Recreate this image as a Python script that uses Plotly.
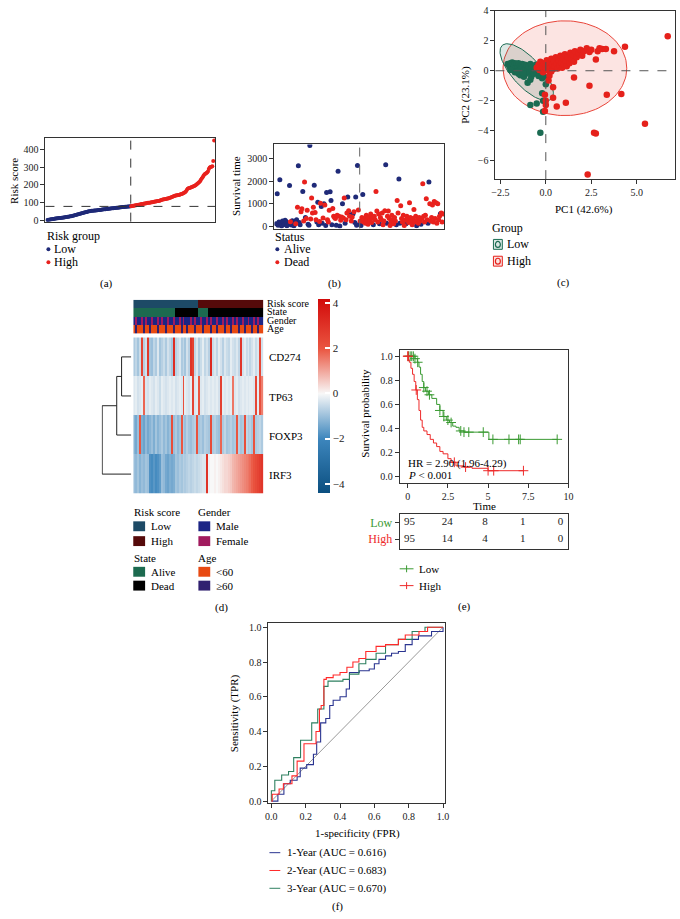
import numpy as np
import plotly.graph_objects as go

W, H = 680, 919
FONT = "Liberation Serif"

# ---------------- (a) risk score ----------------
risk_low = [1, 2, 3, 4, 5, 6, 7, 7.5, 8, 9,
            10, 10.5, 11, 12, 12.5, 13, 14, 14.5, 15, 16,
            17, 17.5, 18, 19, 20, 21, 22, 23, 24, 25.5,
            27, 28, 29.5, 31, 32, 33.5, 35, 36.5, 38, 39,
            40.5, 42, 43, 44.5, 46, 47, 48.5, 50, 51, 52,
            53, 53.5, 54, 54.5, 55, 55.5, 56, 56.5, 57, 57.5,
            58, 59, 60, 61, 61.5, 62, 62.5, 63, 64, 64.5,
            65, 65.5, 66, 67, 67.5, 68, 68.5, 69, 70, 70.5,
            71, 71.5, 72, 73, 73.5, 74, 74.5, 75, 75.5, 76,
            76.5, 77, 77.5, 78, 78.5]
risk_high = [79, 80, 81, 82, 83, 84, 85, 86, 87, 88,
             89, 90, 91, 92, 93, 94, 95, 96, 97, 98,
             98.5, 99, 100, 101, 102, 103, 104, 105, 106, 107,
             108, 109, 110, 112, 114, 116, 117, 118, 119, 120,
             121, 122, 123, 125, 127, 129, 131, 133, 135, 137,
             139, 140, 141, 142, 143, 144, 146, 148, 150, 152,
             155, 158, 162, 170, 178, 180, 182, 184, 186, 188,
             190, 192, 195, 198, 202, 206, 210, 215, 220, 228,
             235, 243, 251, 258, 262, 266, 270, 275, 290, 298,
             300, 302, 305, 335, 450]
risk_cutoff = 78

# ---------------- (b) survival status ----------------
surv_time = [120, 1440, 60, 200, 2060, 150, 30, 250, 180, 90,
             280, 220, 40, 160, 100, 1810, 210, 70, 260, 150,
             40, 230, 120, 300, 850, 2680, 180, 80, 650, 780,
             1540, 250, 1960, 400, 350, 720, 100, 60, 3570, 330,
             1260, 600, 850, 1820, 620, 300, 200, 1070, 80, 220,
             1030, 880, 150, 380, 1000, 950, 50, 1500, 300, 200,
             720, 1530, 1150, 80, 800, 450, 400, 350, 60, 500,
             2430, 450, 30, 280, 420, 1000, 380, 1260, 150, 300,
             600, 1300, 700, 450, 520, 250, 420, 560, 650, 180,
             1300, 60, 2690, 730, 100, 250, 50, 400, 1410, 200,
             350, 150, 500, 300, 100, 420, 250, 550, 180, 380,
             80, 450, 300, 1540, 680, 200, 550, 120, 400, 300,
             600, 80, 250, 700, 2720, 150, 450, 680, 350, 50,
             200, 500, 300, 120, 400, 250, 80, 1150, 600, 2090,
             150, 920, 350, 200, 500, 50, 280, 120, 450, 300,
             180, 1050, 400, 250, 80, 350, 750, 200, 450, 40,
             300, 150, 400, 250, 100, 350, 1880, 450, 200, 500,
             1220, 300, 150, 1960, 1000, 250, 400, 950, 200, 1100,
             350, 1050, 150, 1000, 300, 450, 560, 600, 200, 550]
surv_status = [0, 0, 0, 0, 0, 0, 0, 0, 0, 0,
               0, 0, 0, 0, 0, 0, 1, 0, 0, 0,
               0, 0, 1, 0, 1, 0, 0, 0, 1, 1,
               0, 1, 1, 0, 1, 1, 0, 0, 0, 1,
               1, 1, 1, 0, 1, 1, 0, 0, 0, 1,
               1, 0, 0, 1, 0, 1, 0, 0, 1, 1,
               1, 0, 0, 0, 1, 1, 1, 1, 0, 1,
               0, 1, 0, 1, 1, 0, 1, 1, 0, 1,
               1, 0, 1, 1, 0, 1, 1, 0, 1, 0,
               0, 0, 0, 1, 0, 1, 0, 1, 0, 1,
               1, 1, 1, 1, 1, 1, 1, 1, 1, 1,
               0, 1, 1, 1, 1, 1, 1, 0, 1, 1,
               1, 1, 1, 1, 0, 0, 1, 1, 1, 1,
               1, 1, 1, 1, 1, 1, 0, 1, 1, 0,
               0, 1, 1, 1, 1, 1, 1, 0, 1, 1,
               1, 1, 1, 1, 1, 1, 1, 1, 1, 0,
               1, 1, 1, 1, 0, 1, 1, 1, 1, 1,
               1, 1, 0, 0, 1, 1, 1, 1, 1, 1,
               1, 1, 1, 1, 1, 1, 0, 1, 1, 1]

# ---------------- (c) PCA ----------------
pc_low_x = [-2.1, -2.0, -1.95, -1.9, -1.85, -1.8, -1.8, -1.75, -1.7, -1.7, -1.65, -1.6, -1.6, -1.55, -1.5,
            -1.5, -1.45, -1.4, -1.4, -1.35, -1.3, -1.3, -1.25, -1.2, -1.2, -1.15, -1.1, -1.1, -1.05, -1.0,
            -1.0, -0.95, -0.9, -0.85, -0.8, -0.8, -0.75, -0.7, -0.65, -0.6, -0.55, -0.5, -0.45, -0.4, -0.35,
            -0.3, -0.25, -0.2, -1.95, -1.55, -1.25, -0.85, -0.1, 0.0, -0.2, -0.15, -0.5, -0.85, -0.15, -0.3]
pc_low_y = [0.45, 0.3, 0.5, 0.2, 0.55, 0.4, 0.1, 0.3, 0.5, -0.1, 0.2, 0.45, 0.0, 0.3, -0.2,
            0.5, 0.1, 0.35, -0.3, 0.2, 0.45, -0.1, 0.3, 0.05, -0.4, 0.4, 0.2, -0.2, 0.35, -0.8,
            0.1, 0.3, -0.1, 0.45, 0.2, -0.4, 0.0, 0.3, -0.2, 0.15, 0.4, -0.1, 0.2, -0.35, 0.05,
            0.3, -0.3, -0.5, 0.05, -0.05, -0.15, -0.6, -0.4, -0.9, -1.5, -2.0, -2.2, -2.3, -2.75, -4.15]
pc_high_x = [-0.5, -0.4, -0.35, -0.3, -0.2, -0.15, -0.1, 0.0, 0.05, 0.1, 0.15, 0.2, 0.25, 0.3, 0.35,
             0.4, 0.45, 0.5, 0.55, 0.6, 0.65, 0.7, 0.75, 0.8, 0.85, 0.9, 0.95, 1.0, 1.05, 1.1,
             1.15, 1.2, 1.3, 1.35, 1.4, 1.5, 1.55, 1.6, 1.7, 1.8, 1.9, 2.0, 2.1, 2.25, 2.4,
             2.5, 2.75, 2.85, 2.95, 3.1, 3.3, 3.75, 4.35, 6.7,
             0.2, 0.15, 0.3, 0.4, 0.4, 0.6, 1.1, 0.0, -0.05, 1.55, 2.4, 3.35, 4.15, 5.45, 2.65,
             2.75, 2.3, 0.0, -0.05]
pc_high_y = [0.2, 0.4, 0.05, 0.6, 0.3, -0.1, 0.5, 0.2, 0.7, 0.35, 0.0, 0.55, 0.2, 0.8, 0.4,
             0.1, 0.6, 0.3, 0.9, 0.45, 0.15, 0.7, 0.35, 1.0, 0.5, 0.2, 0.8, 0.4, 1.1, 0.65,
             0.3, 0.9, 0.5, 1.2, 0.8, 1.05, 0.6, 1.3, 0.9, 1.15, 1.4, 1.0, 1.3, 1.5, 1.25,
             1.4, 0.75, 1.3, 1.5, 1.45, 1.45, 1.3, 1.6, 2.3,
             -0.33, -0.65, -0.05, -1.1, -1.8, -2.4, -2.15, -2.3, -2.7, -0.45, -1.0, -1.6, -1.55, -3.55, -4.15,
             -4.2, -6.95, -2.0, -1.6]
ellipse_low = {"cx": -1.05, "cy": -0.1, "a": 2.25, "b": 0.85, "angle": -55}
ellipse_high = {"cx": 1.05, "cy": 0.17, "a": 3.4, "b": 3.17, "angle": 0}

# ---------------- (d) heatmap ----------------
genes = ["CD274", "TP63", "FOXP3", "IRF3"]
expr_cd274 = [-0.8, -0.6, -0.9, -0.5, 2.5, -0.7, -0.4, 2.8, -0.9, -1.0,
              -0.6, -0.8, -0.3, -0.9, -0.7, -0.5, -0.8, -0.4, -0.6, -0.9,
              3.2, -0.7, -0.5, -0.3, -0.8, -0.6, -0.9, -0.4, -0.7, 3.0,
              2.6, -0.6, -0.3, -0.8, -0.5, -0.2, -0.6, -0.4, -0.7, 3.3,
              -0.5, -0.3, -0.6, -0.2, -0.4, -0.7, -0.3, -0.5, -0.6, -0.2,
              -0.4, -0.5, -0.3, -0.6, 2.9, -0.4, -0.2, -0.5, -0.3, -0.6,
              -0.4, -0.2, -0.5, -0.3, 2.4, -0.4]
expr_tp63 = [-0.3, -0.2, -0.4, -0.3, -0.2, 1.8, -0.3, -0.4, -0.2, -0.3,
             -0.4, -0.2, -0.3, -0.5, -0.2, -0.3, -0.4, -0.3, -0.2, -0.3,
             -0.2, -0.4, -0.3, -0.2, -0.3, 2.2, -0.2, -0.3, -0.4, -0.2,
             2.5, -0.3, -0.2, 2.0, -0.3, -0.2, -0.4, -0.3, -0.2, -0.3,
             -0.2, -0.3, -0.2, -0.4, 2.6, -0.2, -0.3, -0.2, -0.3, -0.2,
             1.6, -0.3, -0.2, -0.4, -0.3, -0.2, -0.3, -0.2, -0.3, -0.2,
             -0.2, -0.3, 2.4, -0.2, 2.2, 1.5]
expr_foxp3 = [-1.2, -1.4, -1.0, 2.0, -1.3, -1.5, -1.1, -1.4, -1.2, -1.0,
              -1.3, -0.9, -1.2, -1.0, -0.8, -1.1, -0.9, -1.2, -1.0, 2.2,
              -1.0, -0.8, -1.1, -0.9, 2.0, -0.8, -1.0, -0.7, -0.9, -1.0,
              -0.8, -0.7, 2.1, -0.9, -0.8, -1.0, -0.7, -0.8, -0.9, 2.3,
              -0.8, -0.7, -0.9, -1.0, 1.8, -0.8, -0.6, -0.9, -0.8, -0.7,
              -0.9, -0.8, 2.0, -0.7, -0.9, -0.8, 2.2, -0.6, -0.8, -0.7,
              -0.9, 2.1, -0.8, -0.7, -0.6, -0.8]
expr_irf3 = [-1.0, -1.1, -0.9, -1.2, -1.0, -1.1, -0.9, -1.0, -1.8, -1.9,
             -1.7, -1.9, -1.8, -1.6, -1.0, -1.1, -1.4, -1.5, -1.3, -1.4,
             -1.3, -0.9, -1.0, -0.8, -0.9, -0.7, -0.8, -0.7, -0.6, -0.7,
             -0.6, -0.5, -0.6, -0.5, -0.4, -0.3, -0.3, 3.0, -0.1, 0.0,
             0.0, 0.1, 0.0, 0.1, 0.2, 0.3, 0.4, 0.4, 0.5, 0.6,
             0.8, 0.9, 1.0, 1.1, 1.2, 1.3, 1.4, 1.5, 1.6, 1.7,
             1.9, 2.1, 2.3, 2.5, 2.7, 2.9]
ann_risk = [0] * 33 + [1] * 33
ann_state = [0] * 21 + [1] * 12 + [0] * 5 + [1] * 28
ann_gender = [0, 1, 0, 0, 1, 0, 1, 0, 0, 1, 0, 0, 1, 0, 1, 0, 0, 1, 0, 0,
              1, 0, 0, 1, 0, 1, 0, 0, 0, 1, 0, 1, 0, 0, 1, 0, 0, 1, 0, 1,
              0, 0, 1, 0, 0, 1, 0, 1, 0, 0, 1, 0, 1, 0, 0, 1, 0, 0, 1, 0,
              0, 1, 0, 1, 0, 0]
ann_age = [0, 1, 0, 0, 0, 1, 0, 0, 1, 0, 0, 0, 1, 0, 0, 0, 1, 0, 0, 0,
           1, 0, 0, 0, 1, 0, 0, 1, 0, 0, 0, 1, 0, 0, 0, 1, 0, 0, 0, 1,
           0, 0, 1, 0, 0, 0, 1, 0, 0, 1, 0, 0, 0, 1, 0, 0, 1, 0, 0, 0,
           1, 0, 0, 1, 0, 0]
ann_names = ["Risk score", "State", "Gender", "Age"]
ann_colors = ["#1d4a66", "#550a0a", "#1c6a4f", "#000000",
              "#1c2585", "#a11a5e", "#e84a12", "#302070"]
dendro_heights = [1.0, 1.5, 3.0]   # merges: CD274+TP63, +FOXP3, +IRF3

# ---------------- (e) Kaplan-Meier ----------------
km_low_t = [0, 0.45, 0.6, 0.7, 0.8, 0.9, 1.0, 1.1, 1.3, 1.5, 1.8, 2.0, 2.2, 2.4, 2.6, 2.8, 3.0, 3.2, 3.5, 5.05, 9.3]
km_low_s = [1.0, 0.98, 0.95, 0.91, 0.85, 0.79, 0.74, 0.71, 0.68, 0.65, 0.60, 0.55, 0.50, 0.47, 0.45, 0.42, 0.41, 0.38, 0.37, 0.31, 0.31]
km_low_cens = [0.05, 0.15, 0.25, 0.35, 0.45, 0.62, 1.0, 1.2, 1.35, 2.0, 2.25, 2.5, 2.7, 3.3, 3.5, 3.8, 4.7, 5.3, 6.3, 6.9, 7.0, 9.3]
km_high_t = [0, 0.05, 0.1, 0.2, 0.3, 0.4, 0.5, 0.6, 0.7, 0.8, 0.9, 1.0, 1.2, 1.4, 1.6, 1.8, 2.0, 2.2, 2.5, 2.7, 3.0, 3.5, 4.0, 5.0, 7.2]
km_high_s = [1.0, 0.97, 0.95, 0.9, 0.85, 0.79, 0.72, 0.64, 0.55, 0.47, 0.41, 0.38, 0.35, 0.31, 0.28, 0.25, 0.21, 0.19, 0.15, 0.12, 0.09, 0.08, 0.07, 0.05, 0.05]
km_high_cens = [0.0, 0.02, 0.53, 2.9, 3.6, 5.0, 5.35, 7.2]
risk_times = [0, 2.5, 5, 7.5, 10]
risk_n_low = [95, 24, 8, 1, 0]
risk_n_high = [95, 14, 4, 1, 0]

# ---------------- (f) ROC ----------------
roc1_fpr = [0, 0.038, 0.038, 0.073, 0.11, 0.15, 0.168, 0.206, 0.245, 0.264, 0.287, 0.317, 0.34, 0.36, 0.40,
            0.436, 0.455, 0.512, 0.57, 0.6, 0.627, 0.665, 0.70, 0.74, 0.78, 0.82, 0.857, 0.933, 1.0]
roc1_tpr = [0, 0, 0.04, 0.1, 0.12, 0.14, 0.19, 0.21, 0.27, 0.34, 0.45, 0.475, 0.55, 0.58, 0.6,
            0.645, 0.74, 0.75, 0.76, 0.79, 0.815, 0.835, 0.85, 0.86, 0.9, 0.93, 0.95, 0.975, 1.0]
roc2_fpr = [0, 0.005, 0.045, 0.07, 0.12, 0.15, 0.19, 0.26, 0.28, 0.29, 0.306, 0.32, 0.36, 0.40, 0.44,
            0.475, 0.51, 0.55, 0.61, 0.665, 0.74, 0.78, 0.86, 0.91, 1.0]
roc2_tpr = [0, 0.04, 0.07, 0.1, 0.145, 0.23, 0.33, 0.40, 0.53, 0.55, 0.70, 0.71, 0.725, 0.74, 0.77,
            0.8, 0.82, 0.86, 0.89, 0.9, 0.93, 0.955, 0.975, 1.0, 1.0]
roc3_fpr = [0, 0, 0.02, 0.06, 0.1, 0.13, 0.17, 0.235, 0.27, 0.306, 0.33, 0.417, 0.455, 0.51, 0.55,
            0.61, 0.665, 0.74, 0.82, 0.895, 1.0]
roc3_tpr = [0, 0.06, 0.12, 0.15, 0.17, 0.25, 0.35, 0.45, 0.53, 0.66, 0.69, 0.70, 0.73, 0.79, 0.815,
            0.85, 0.9, 0.93, 0.975, 1.0, 1.0]
roc_labels = ["1-Year (AUC = 0.616)", "2-Year (AUC = 0.683)", "3-Year (AUC = 0.670)"]

# ---------------- colors ----------------
NAVY = "#1f2a78"
RED = "#e8211d"
PC_GREEN = "#1b6b52"
PC_RED = "#e5211b"
KM_GREEN = "#3a9a32"
KM_RED = "#ee2a2a"
ROC_COLORS = ["#2a3490", "#ff2a2a", "#2e8060"]

# ---------------- helpers ----------------
def dx(l, r):
    return [l / W, r / W]

def dy(top, bottom):
    return [1 - bottom / H, 1 - top / H]

def px(x):
    return x / W

def py(y):
    return 1 - y / H

annotations = []
shapes = []

def txt(x, y, s, size=11, anchor="left", color="black", angle=0):
    annotations.append(dict(x=px(x), y=py(y), xref="paper", yref="paper", text=s,
                            showarrow=False, xanchor=anchor, yanchor="middle", borderpad=0,
                            textangle=angle, font=dict(family=FONT, size=size, color=color)))

def dot(x, y, color, r=2):
    shapes.append(dict(type="circle", xref="paper", yref="paper", x0=px(x - r), x1=px(x + r),
                       y0=py(y + r), y1=py(y - r), fillcolor=color, line=dict(width=0)))

def rect(x0, y0, x1, y1, fill, line_color=None, lw=0):
    shapes.append(dict(type="rect", xref="paper", yref="paper", x0=px(x0), x1=px(x1),
                       y0=py(y1), y1=py(y0), fillcolor=fill,
                       line=dict(width=lw, color=line_color or fill)))

def hline_paper(x0, x1, y, color, w=1):
    shapes.append(dict(type="line", xref="paper", yref="paper", x0=px(x0), x1=px(x1),
                       y0=py(y), y1=py(y), line=dict(color=color, width=w)))

def vline_paper(x, y0, y1, color, w=1):
    shapes.append(dict(type="line", xref="paper", yref="paper", x0=px(x), x1=px(x),
                       y0=py(y0), y1=py(y1), line=dict(color=color, width=w)))

def ax(domain, rng, **kw):
    d = dict(domain=domain, range=rng, showline=True, mirror=True, linecolor="#333",
             linewidth=1, ticks="outside", ticklen=4, tickcolor="#333", showgrid=False,
             zeroline=False, tickfont=dict(family=FONT, size=10, color="#222"))
    d.update(kw)
    return d

fig = go.Figure()

# ================= (a) =================
n_low = len(risk_low)
idx_low = list(range(1, n_low + 1))
idx_high = list(range(n_low + 1, n_low + len(risk_high) + 1))
fig.add_trace(go.Scatter(x=idx_low, y=risk_low, mode="markers", marker=dict(color=NAVY, size=4),
                         xaxis="x", yaxis="y", showlegend=False))
fig.add_trace(go.Scatter(x=idx_high, y=risk_high, mode="markers", marker=dict(color=RED, size=4),
                         xaxis="x", yaxis="y", showlegend=False))
shapes.append(dict(type="line", xref="x", yref="y domain", x0=n_low + 0.5, x1=n_low + 0.5, y0=0, y1=1,
                   line=dict(color="#333", width=1, dash="dash")))
shapes.append(dict(type="line", xref="x domain", yref="y", x0=0, x1=1, y0=risk_cutoff, y1=risk_cutoff,
                   line=dict(color="#333", width=1, dash="dash")))
txt(10, 177, "Risk score", 11, "center", angle=-90)
txt(43, 233, "Risk group", 12)
dot(45, 246, NAVY); txt(50, 246, "Low", 12)
dot(45, 259, RED); txt(50, 259, "High", 12)
txt(104, 281, "(a)", 11, "center")

# ================= (b) =================
idx_all = list(range(1, len(surv_time) + 1))
alive_x = [i for i, s in zip(idx_all, surv_status) if s == 0]
alive_y = [t for t, s in zip(surv_time, surv_status) if s == 0]
dead_x = [i for i, s in zip(idx_all, surv_status) if s == 1]
dead_y = [t for t, s in zip(surv_time, surv_status) if s == 1]
fig.add_trace(go.Scatter(x=alive_x, y=alive_y, mode="markers", marker=dict(color=NAVY, size=5),
                         xaxis="x2", yaxis="y2", showlegend=False))
fig.add_trace(go.Scatter(x=dead_x, y=dead_y, mode="markers", marker=dict(color=RED, size=5),
                         xaxis="x2", yaxis="y2", showlegend=False))
shapes.append(dict(type="line", xref="x2", yref="y2 domain", x0=n_low + 0.5, x1=n_low + 0.5, y0=0, y1=1,
                   line=dict(color="#666", width=1, dash="dash")))
txt(235, 182, "Survival time", 11, "center", angle=-90)
txt(274, 234, "Status", 12)
dot(277, 246, NAVY); txt(283, 246, "Alive", 12)
dot(277, 259, RED); txt(283, 259, "Dead", 12)
txt(335, 281, "(b)", 11, "center")

# ================= (c) =================
def ellipse(p):
    t = np.linspace(0, 2 * np.pi, 120)
    th = np.radians(p["angle"])
    ex = p["cx"] + p["a"] * np.cos(t) * np.cos(th) - p["b"] * np.sin(t) * np.sin(th)
    ey = p["cy"] + p["a"] * np.cos(t) * np.sin(th) + p["b"] * np.sin(t) * np.cos(th)
    return ex, ey

ex, ey = ellipse(ellipse_high)
fig.add_trace(go.Scatter(x=ex, y=ey, mode="lines", fill="toself", fillcolor="rgba(240,120,110,0.2)",
                         line=dict(color="#e8453a", width=1), xaxis="x3", yaxis="y3", showlegend=False))
ex, ey = ellipse(ellipse_low)
fig.add_trace(go.Scatter(x=ex, y=ey, mode="lines", fill="toself", fillcolor="rgba(30,100,80,0.15)",
                         line=dict(color="#1b6b52", width=1), xaxis="x3", yaxis="y3", showlegend=False))
shapes.append(dict(type="line", xref="x3", yref="y3 domain", x0=0, x1=0, y0=0, y1=1,
                   line=dict(color="#555", width=1, dash="dash")))
shapes.append(dict(type="line", xref="x3 domain", yref="y3", x0=0, x1=1, y0=0, y1=0,
                   line=dict(color="#555", width=1, dash="dash")))
fig.add_trace(go.Scatter(x=pc_low_x, y=pc_low_y, mode="markers", marker=dict(color=PC_GREEN, size=6.5),
                         xaxis="x3", yaxis="y3", showlegend=False))
fig.add_trace(go.Scatter(x=pc_high_x, y=pc_high_y, mode="markers", marker=dict(color=PC_RED, size=6.5),
                         xaxis="x3", yaxis="y3", showlegend=False))
txt(467, 90, "PC2 (23.1%)", 11, "center", angle=-90)
txt(588, 206, "PC1 (42.6%)", 11, "center")
txt(494, 224, "Group", 12)
rect(496, 236, 505, 246, "rgba(30,100,80,0.15)", PC_GREEN, 1)
shapes.append(dict(type="circle", xref="paper", yref="paper", x0=px(498), x1=px(503), y0=py(244), y1=py(238),
                   fillcolor="rgba(0,0,0,0)", line=dict(color=PC_GREEN, width=1.2)))
txt(509, 241, "Low", 12)
rect(496, 253, 505, 263, "rgba(240,120,110,0.2)", PC_RED, 1)
shapes.append(dict(type="circle", xref="paper", yref="paper", x0=px(498), x1=px(503), y0=py(261), y1=py(255),
                   fillcolor="rgba(0,0,0,0)", line=dict(color=PC_RED, width=1.2)))
txt(509, 258, "High", 12)
txt(567, 280, "(c)", 11, "center")

# ================= (d) =================
ncol = len(expr_cd274)
cols = list(range(ncol))
ann_z = [[v + 0 for v in ann_risk], [v + 2 for v in ann_state],
         [v + 4 for v in ann_gender], [v + 6 for v in ann_age]]
disc = []
for k, c in enumerate(ann_colors):
    disc.append([k / 8, c]); disc.append([(k + 1) / 8, c])
fig.add_trace(go.Heatmap(z=ann_z, x=cols, y=[0, 1, 2, 3], colorscale=disc, zmin=-0.5, zmax=7.5,
                         showscale=False, xaxis="x4", yaxis="y4", hoverinfo="skip"))
zmin, zmax = -4.4, 4.2
def f(v):
    return (v - zmin) / (zmax - zmin)
hm_scale = [[0, "#0b4f80"], [f(-2), "#3d86bd"], [f(0), "#f8f8f8"], [f(2), "#ea5540"], [1, "#d20a0a"]]
fig.add_trace(go.Heatmap(z=[expr_cd274, expr_tp63, expr_foxp3, expr_irf3], x=cols, y=[0, 1, 2, 3],
                         colorscale=hm_scale, zmin=zmin, zmax=zmax, xaxis="x5", yaxis="y5",
                         colorbar=dict(x=px(318), xanchor="left", y=py(394), yanchor="middle",
                                       len=196 / H, lenmode="fraction", thickness=12, outlinewidth=0,
                                       xpad=0, ypad=0,
                                       tickvals=[-4, -2, 0, 2, 4], ticks="inside", ticklen=5,
                                       tickcolor="white", tickwidth=1.5,
                                       tickfont=dict(family=FONT, size=11, color="#222"))))
# dendrogram: leaves at rows 0..3
h1, h2, h3 = dendro_heights
m1 = (0 + 1) / 2
m2 = (m1 + 2) / 2
dendro_segs = [([0, h1, h1, 0], [0, 0, 1, 1]),
               ([h1, h2, h2, 0], [m1, m1, 2, 2]),
               ([h2, h3, h3, 0], [m2, m2, 3, 3])]
for xs, ys in dendro_segs:
    fig.add_trace(go.Scatter(x=xs, y=ys, mode="lines", line=dict(color="#222", width=1),
                             xaxis="x6", yaxis="y6", showlegend=False, hoverinfo="skip"))
ann_label_y = [300.5, 309, 317.5, 326.5]
for name, yy in zip(ann_names, ann_label_y):
    txt(266, yy, name, 10)
gene_y = [355, 395, 435, 474]
for g, yy in zip(genes, gene_y):
    txt(268, yy, g, 11)
# legend
txt(131, 512, "Risk score", 11); txt(196, 512, "Gender", 11)
txt(131, 558, "State", 11); txt(196, 558, "Age", 11)
leg_d = [(131, 526, ann_colors[0], "Low"), (131, 541, ann_colors[1], "High"),
         (131, 572, ann_colors[2], "Alive"), (131, 586, ann_colors[3], "Dead"),
         (197, 526, ann_colors[4], "Male"), (197, 541, ann_colors[5], "Female"),
         (197, 572, ann_colors[6], "<60"), (197, 586, ann_colors[7], "≥60")]
for xx, yy, c, lab in leg_d:
    rect(xx, yy - 5, xx + 12, yy + 5, c)
    txt(xx + 17, yy, lab, 11)
txt(220, 608, "(d)", 11, "center")

# ================= (e) =================
def step_at(ts, ss, t):
    i = int(np.searchsorted(ts, t, side="right")) - 1
    return ss[max(i, 0)]

for ts, ss, cens, c in [(km_low_t, km_low_s, km_low_cens, KM_GREEN),
                        (km_high_t, km_high_s, km_high_cens, KM_RED)]:
    fig.add_trace(go.Scatter(x=ts, y=ss, mode="lines", line=dict(color=c, width=1, shape="hv"),
                             xaxis="x7", yaxis="y7", showlegend=False))
    fig.add_trace(go.Scatter(x=cens, y=[step_at(ts, ss, t) for t in cens], mode="markers",
                             marker=dict(symbol="cross-thin", size=7, line=dict(color=c, width=1)),
                             xaxis="x7", yaxis="y7", showlegend=False))
txt(408, 463, "HR = 2.90 (1.96-4.29)", 11)
txt(408, 474, "<i>P</i> < 0.001", 11)
txt(365, 412, "Survival probability", 11, "center", angle=-90)
txt(487, 505, "Time", 11, "center")
# risk table
fig.add_trace(go.Scatter(x=risk_times, y=[1] * len(risk_times), mode="text",
                         text=[str(v) for v in risk_n_low], textfont=dict(family=FONT, size=11, color="#222"),
                         xaxis="x8", yaxis="y8", showlegend=False))
fig.add_trace(go.Scatter(x=risk_times, y=[0] * len(risk_times), mode="text",
                         text=[str(v) for v in risk_n_high], textfont=dict(family=FONT, size=11, color="#222"),
                         xaxis="x8", yaxis="y8", showlegend=False))
# legend
for yy, c, lab in [(569, KM_GREEN, "Low"), (586, KM_RED, "High")]:
    hline_paper(401, 415, yy, c)
    vline_paper(408, yy - 3.5, yy + 3.5, c)
    txt(420, yy, lab, 11)
txt(467, 607, "(e)", 11, "center")

# ================= (f) =================
fig.add_trace(go.Scatter(x=[0, 1], y=[0, 1], mode="lines", line=dict(color="#999", width=1),
                         xaxis="x9", yaxis="y9", showlegend=False))
for fx, ty, c in [(roc1_fpr, roc1_tpr, ROC_COLORS[0]), (roc3_fpr, roc3_tpr, ROC_COLORS[2]),
                  (roc2_fpr, roc2_tpr, ROC_COLORS[1])]:
    fig.add_trace(go.Scatter(x=fx, y=ty, mode="lines", line=dict(color=c, width=1.1, shape="hv"),
                             xaxis="x9", yaxis="y9", showlegend=False))
txt(233, 715, "Sensitivity (TPR)", 11, "center", angle=-90)
txt(358, 837, "1-specificity (FPR)", 11, "center")
for yy, c, lab in zip([856, 874, 892], ROC_COLORS, roc_labels):
    hline_paper(269, 280, yy, c)
    txt(286, yy, lab, 11)
txt(338, 910, "(f)", 11, "center")

# ================= layout =================
hidden = dict(showticklabels=False, ticks="")
fig.update_layout(
    width=W, height=H, margin=dict(l=0, r=0, t=0, b=0),
    paper_bgcolor="white", plot_bgcolor="white", showlegend=False,
    font=dict(family=FONT, size=11, color="#222"),
    xaxis=ax(dx(42, 214), [-1.2, 191.2], **hidden),
    yaxis=ax(dy(133, 218), [-8, 467], tickvals=[0, 100, 200, 300, 400]),
    xaxis2=ax(dx(274, 446), [-1.2, 191.2], **hidden),
    yaxis2=ax(dy(140, 225), [-87, 3610], tickvals=[0, 1000, 2000, 3000]),
    xaxis3=ax(dx(498, 680), [-2.77, 7.1], tickvals=[-2.5, 0, 2.5, 5.0], tickformat=".1f"),
    yaxis3=ax(dy(5, 175), [-7.25, 4.0], tickvals=[-6, -4, -2, 0, 2, 4]),
    xaxis4=dict(domain=dx(131, 263), range=[-0.5, ncol - 0.5], visible=False),
    yaxis4=dict(domain=dy(297, 331), range=[3.5, -0.5], visible=False),
    xaxis5=dict(domain=dx(131, 263), range=[-0.5, ncol - 0.5], visible=False),
    yaxis5=dict(domain=dy(335, 493), range=[3.5, -0.5], visible=False),
    xaxis6=dict(domain=dx(99, 129), range=[3.05, 0], visible=False),
    yaxis6=dict(domain=dy(335, 493), range=[3.5, -0.5], visible=False),
    xaxis7=ax(dx(401, 572), [-0.5, 10], tickvals=[0, 2.5, 5, 7.5, 10], ticktext=["0", "2.5", "5", "7.5", "10"]),
    yaxis7=ax(dy(348, 482), [-0.05, 1.05], tickvals=[0, 0.2, 0.4, 0.6, 0.8, 1.0], tickformat=".1f"),
    xaxis8=ax(dx(401, 572), [-0.65, 10.52], **hidden),
    yaxis8=ax(dy(514, 549), [-0.59, 1.47], tickvals=[1, 0],
              ticktext=[f"<span style='color:{KM_GREEN}'>Low</span>",
                        f"<span style='color:{KM_RED}'>High</span>"],
              tickfont=dict(family=FONT, size=12)),
    xaxis9=ax(dx(268, 447), [-0.017, 1.012], tickvals=[0, 0.2, 0.4, 0.6, 0.8, 1.0], tickformat=".1f"),
    yaxis9=ax(dy(624, 806), [-0.012, 1.023], tickvals=[0, 0.2, 0.4, 0.6, 0.8, 1.0], tickformat=".1f"),
    annotations=annotations,
    shapes=shapes,
)
for k in ["xaxis", "xaxis2", "xaxis3", "xaxis7", "xaxis8", "xaxis9"]:
    fig.layout[k].anchor = k.replace("xaxis", "y") if k != "xaxis" else "y"
for k in ["yaxis", "yaxis2", "yaxis3", "yaxis7", "yaxis8", "yaxis9"]:
    fig.layout[k].anchor = k.replace("yaxis", "x") if k != "yaxis" else "x"
fig.layout.xaxis4.anchor = "y4"; fig.layout.yaxis4.anchor = "x4"
fig.layout.xaxis5.anchor = "y5"; fig.layout.yaxis5.anchor = "x5"
fig.layout.xaxis6.anchor = "y6"; fig.layout.yaxis6.anchor = "x6"

# remove the browser's default 8px page margin so the figure sits at the window origin
fig.write_html("out.html", config={"displayModeBar": False},
               post_script="document.body.style.margin='0px';")
